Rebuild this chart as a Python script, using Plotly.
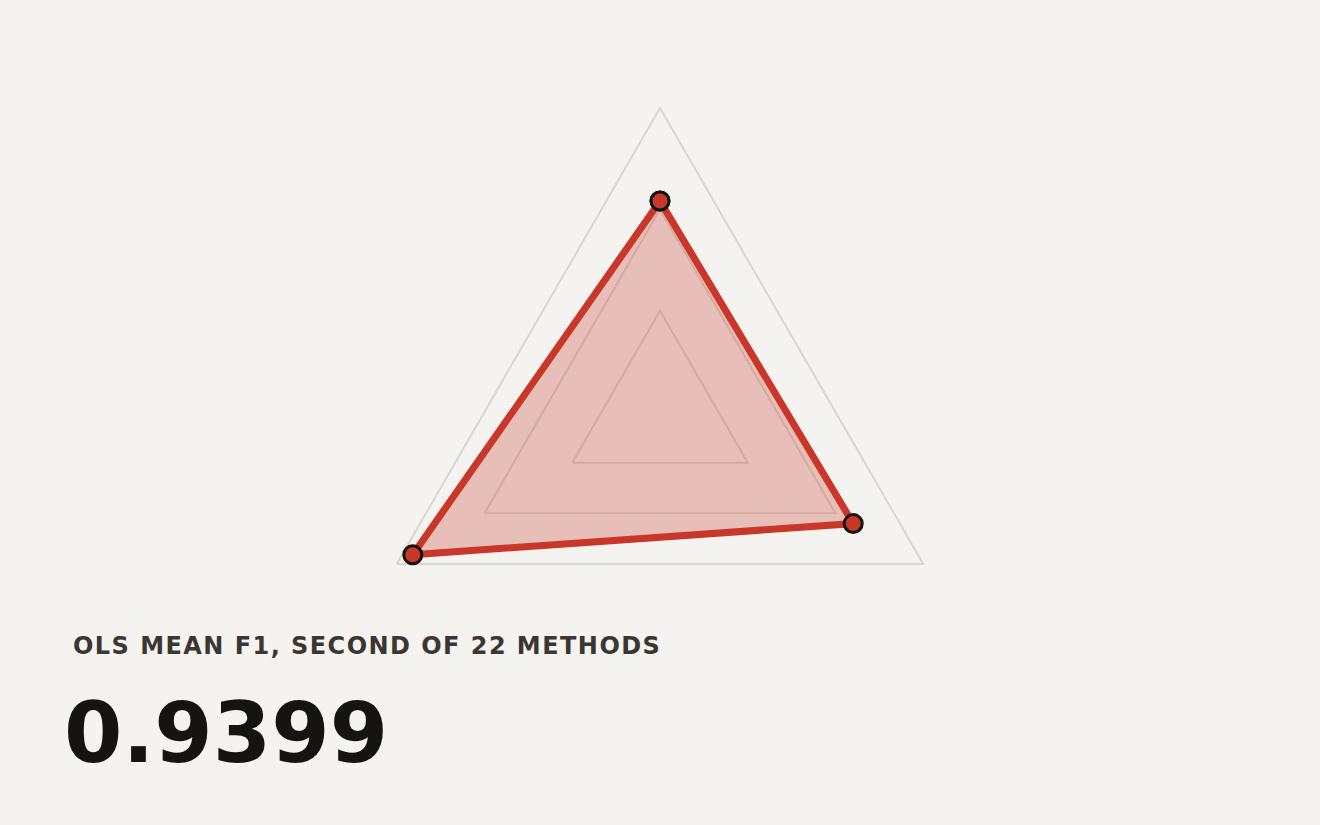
import plotly.graph_objects as go

# Data
metrics = ["Precision", "Recall", "F1"]
values = [0.694, 0.734, 0.939]
grid_ticks = [1/3, 2/3]
headline_label = "OLS MEAN F1, SECOND OF 22 METHODS"
headline_value = "0.9399"

BG = "#f4f3ef"
RED = "#c8372a"

theta = metrics + [metrics[0]]
r = values + [values[0]]

fig = go.Figure()
fig.add_trace(go.Scatterpolar(
    r=r, theta=theta, mode="lines+markers",
    fill="toself", fillcolor="rgba(200,55,42,0.28)",
    line=dict(color=RED, width=7),
    marker=dict(size=18, color=RED, line=dict(color="#161410", width=3)),
    cliponaxis=False,
    hoverinfo="skip", showlegend=False,
))

fig.update_layout(
    width=1320, height=825,
    paper_bgcolor=BG, plot_bgcolor=BG,
    margin=dict(l=0, r=0, t=0, b=0),
    polar=dict(
        domain=dict(x=[356/1320, 964/1320], y=[1-716/825, 1-108/825]),
        bgcolor=BG,
        gridshape="linear",
        radialaxis=dict(range=[0, 1], tickvals=grid_ticks, showticklabels=False,
                        ticks="", showline=False, gridcolor="#d9d6d0", gridwidth=2,
                        layer="below traces"),
        angularaxis=dict(type="category", rotation=90, direction="clockwise",
                         showticklabels=False, ticks="", showgrid=False,
                         linecolor="#d9d6d0", linewidth=2, layer="below traces"),
    ),
    annotations=[
        dict(text="<b><span style='letter-spacing:1.45px'>" + headline_label + "</span></b>",
             xref="paper", yref="paper",
             x=71/1320, y=1-630/825, xanchor="left", yanchor="top", showarrow=False,
             font=dict(family="DejaVu Sans", size=24, color="#3a3632")),
        dict(text="<b>" + headline_value + "</b>", xref="paper", yref="paper",
             x=62/1320, y=1-682/825, xanchor="left", yanchor="top", showarrow=False,
             font=dict(family="DejaVu Sans", size=84, color="#161410")),
    ],
)

fig.write_html("out.html", config={"displayModeBar": False},
               post_script="document.body.style.margin='0';")
